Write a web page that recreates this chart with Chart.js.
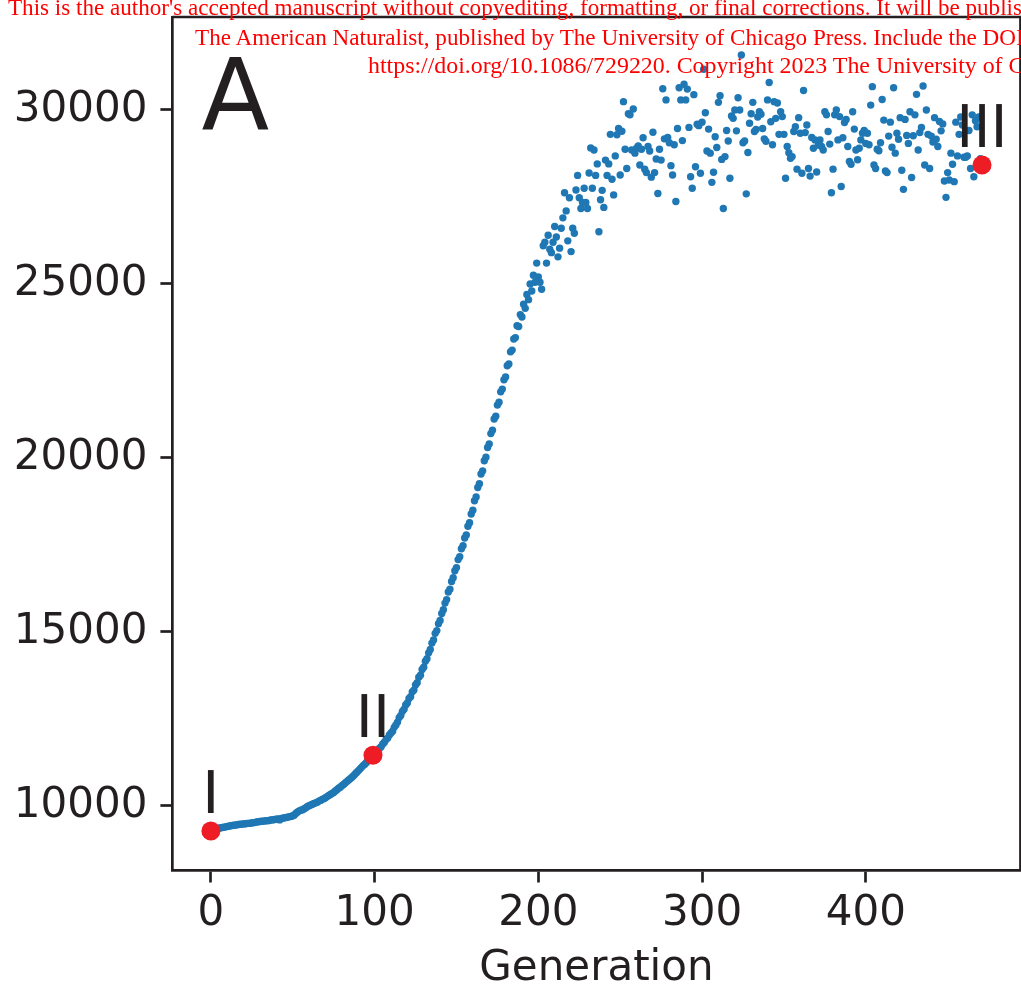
<!DOCTYPE html>
<html>
<head>
<meta charset="utf-8">
<script src="https://cdn.jsdelivr.net/npm/chart.js@4.4.0/dist/chart.umd.min.js"></script>
<style>
  html, body { margin: 0; padding: 0; background: #fff; overflow: hidden; }
  #wrap { position: relative; width: 1021px; height: 989px; overflow: hidden; }
  #chart { position: absolute; left: 0; top: 0; }
  .note {
    position: absolute; white-space: nowrap; color: #f00;
    font-family: "Liberation Serif", serif; font-size: 23px; line-height: 23px;
    transform-origin: 0 0;
  }
</style>
</head>
<body>
<div id="wrap">
  <canvas id="chart" width="1030" height="996"></canvas>
  <div class="note" id="n1" style="left:8px;top:-4px">This is the author's accepted manuscript without copyediting, formatting, or final corrections. It will be published in</div>
  <div class="note" id="n2" style="left:195px;top:25.5px">The American Naturalist, published by The University of Chicago Press. Include the DOI when citing or quoting:</div>
  <div class="note" id="n3" style="left:368px;top:54px">https://doi.org/10.1086/729220. Copyright 2023 The University of Chicago.</div>
</div>
<script>
// mean fitness per generation (index = generation)
const fitness = [
  9280, 9300, 9320, 9330, 9345, 9360, 9375, 9380, 9390, 9400,
  9410, 9420, 9430, 9440, 9445, 9450, 9460, 9470, 9475, 9480,
  9485, 9490, 9495, 9500, 9505, 9515, 9520, 9530, 9540, 9545,
  9555, 9560, 9565, 9570, 9580, 9575, 9590, 9600, 9605, 9610,
  9620, 9630, 9600, 9640, 9650, 9660, 9670, 9680, 9690, 9700,
  9720, 9740, 9790, 9830, 9860, 9880, 9890, 9920, 9950, 9985,
  10010, 10030, 10050, 10070, 10090, 10110, 10140, 10160, 10190, 10210,
  10240, 10270, 10300, 10330, 10360, 10390, 10430, 10470, 10510, 10540,
  10580, 10620, 10660, 10700, 10740, 10780, 10820, 10860, 10910, 10960,
  11010, 11060, 11110, 11160, 11200, 11250, 11300, 11350, 11400, 11460,
  11500, 11560, 11590, 11660, 11700, 11780, 11830, 11910, 11950, 12040,
  12100, 12150, 12260, 12330, 12410, 12540, 12600, 12720, 12780, 12900,
  12960, 13090, 13140, 13280, 13330, 13480, 13540, 13700, 13760, 13920,
  13990, 14160, 14230, 14400, 14500, 14680, 14770, 14960, 15040, 15240,
  15330, 15530, 15640, 15830, 15930, 16150, 16230, 16450, 16560, 16760,
  16850, 17080, 17160, 17390, 17480, 17700, 17790, 18040, 18140, 18390,
  18500, 18770, 18880, 19150, 19260, 19540, 19630, 19920, 20020, 20300,
  20400, 20700, 20800, 21120, 21200, 21520, 21600, 21900, 21980, 22250,
  22330, 22650, 22700, 23050, 23100, 23420, 23460, 23800, 23780, 24120,
  24050, 24420, 24300, 24700, 24550, 25000, 24800, 25250, 25050, 25600,
  25200, 25050, 24850, 26100, 26200, 25600, 26400, 26000, 25900, 26200,
  26650, 26350, 25780, 26030, 26600, 26900, 27620, 27100, 26240, 27480,
  25930, 26600, 26460, 27700, 28120, 27480, 27170, 27340, 27750, 27340,
  27170, 28190, 28910, 27750, 28850, 28120, 28450, 26500, 27420, 27690,
  27200, 28560, 28120, 28450, 29300, 28010, 27560, 28680, 29290, 29470,
  28130, 29390, 30240, 28870, 28320, 29890, 29860, 28850, 30030, 28760,
  28900, 28970, 28420, 28870, 29200, 28300, 28200, 28950, 28820, 28070,
  29360, 28200, 28590, 27600, 28870, 28560, 30610, 29170, 30290, 29210,
  29060, 28400, 28130, 29000, 27370, 29470, 30640, 30290, 29120, 30740,
  30290, 30600, 29500, 28080, 27750, 30440, 28370, 29590, 29550, 28180,
  29650, 31170, 29920, 28820, 29450, 28760, 27920, 28210, 29230, 28920,
  30220, 30410, 28580, 27170, 28660, 29410, 29110, 28040, 29830, 29760,
  30000, 29400, 30350, 30000, 31580, 29060, 29110, 27590, 28780, 29620,
  29890, 30220, 29380, 29440, 29800, 29950, 29880, 29470, 29170, 29100,
  30290, 30790, 29660, 29000, 30240, 29760, 30200, 29300, 29950, 29810,
  29300, 28040, 28950, 28770, 28610, 28660, 29380, 29520, 28300, 29780,
  29330, 28180, 30560, 29350, 29570, 28320, 28100, 29210, 28900, 29140,
  28220, 28990, 29140, 28950, 28850, 29950, 29860, 29380, 29020, 27620,
  28300, 29860, 30000, 29140, 29810, 27800, 29200, 29640, 29730, 28950,
  28520, 28440, 29950, 29450, 28850, 28570, 28900, 29140, 29330, 29410,
  29040, 29330, 29000, 30140, 30670, 28420, 28320, 28870, 28830, 29060,
  30300, 29710, 28250, 28200, 29250, 29650, 28930, 30640, 28760, 29330,
  29160, 29780, 28270, 27720, 29730, 29270, 29040, 29950, 28060, 29260,
  29860, 30450, 28850, 29350, 29500, 30690, 28420, 30000, 29300, 28320,
  29250, 29080, 29780, 29160, 28950, 29670, 29400, 29600, 27960, 27490,
  28200, 27990, 28760, 28440, 27940, 29650, 28680, 29300, 29800, 29570,
  28640, 28640, 28680, 29410, 28320, 29860, 28080, 29690, 29520, 29800,
  28600, 28420
];

// highlighted generations
const markerGens = [0, 99, 471];
const markerValues = [9280, 11460, 28420];
const markerLabels = ['I', 'II', 'III'];

const xTicks = [0, 100, 200, 300, 400];
const yTicks = [10000, 15000, 20000, 25000, 30000];
const panelLabel = 'A';

const ink = '#231f20';
const font = '"DejaVu Sans", sans-serif';

const extras = {
  id: 'extras',
  afterDatasetsDraw(chart) {
    const { ctx, chartArea: a, scales: { x, y } } = chart;
    ctx.save();
    // top and right spines
    ctx.strokeStyle = ink;
    ctx.lineWidth = 2.7;
    ctx.beginPath();
    ctx.moveTo(a.left, a.top);
    ctx.lineTo(a.right, a.top);
    ctx.lineTo(a.right, a.bottom);
    ctx.stroke();

    ctx.fillStyle = ink;
    ctx.textAlign = 'center';
    ctx.textBaseline = 'alphabetic';
    ctx.font = '58px ' + font;
    markerLabels.forEach((t, i) => {
      ctx.fillText(t, x.getPixelForValue(markerGens[i]), y.getPixelForValue(markerValues[i]) - 18);
    });

    ctx.textAlign = 'left';
    ctx.font = '99px ' + font;
    ctx.fillText(panelLabel, a.left + 29, a.top + 113);
    ctx.restore();
  }
};

const axisCommon = {
  border: { display: true, color: ink, width: 2.7 },
  grid: { display: true, drawOnChartArea: false, drawTicks: true, tickLength: 12, tickWidth: 2.7, tickColor: ink },
};

new Chart(document.getElementById('chart'), {
  type: 'scatter',
  data: {
    datasets: [
      {
        data: markerGens.map((g, i) => ({ x: g, y: markerValues[i] })),
        pointRadius: 9.5,
        pointBackgroundColor: '#ee1c25',
        pointBorderWidth: 0
      },
      {
        data: fitness.map((v, i) => ({ x: i, y: v })),
        pointRadius: 3.7,
        pointBackgroundColor: '#1f77b4',
        pointBorderWidth: 0
      }
    ]
  },
  options: {
    responsive: false,
    animation: false,
    devicePixelRatio: 1,
    layout: { padding: { left: 0, top: 17, right: 6.3, bottom: 0 } },
    plugins: { legend: { display: false }, tooltip: { enabled: false } },
    scales: {
      x: {
        ...axisCommon,
        type: 'linear',
        min: -23.5,
        max: 494.5,
        afterBuildTicks: s => { s.ticks = xTicks.map(v => ({ value: v })); },
        afterFit: s => { s.height = 125.5; s.paddingLeft = 0; s.paddingRight = 0; },
        ticks: { color: ink, font: { family: font, size: 42 }, padding: 6, maxRotation: 0, autoSkip: false, callback: v => String(v) },
        title: { display: true, text: 'Generation', color: ink, font: { family: font, size: 42 }, padding: { top: 0, bottom: 2 } }
      },
      y: {
        ...axisCommon,
        type: 'linear',
        min: 8146,
        max: 32672,
        afterBuildTicks: s => { s.ticks = yTicks.map(v => ({ value: v })); },
        afterFit: s => { s.width = 172.4; s.paddingTop = 0; s.paddingBottom = 0; },
        ticks: { color: ink, font: { family: font, size: 42 }, padding: 13, callback: v => String(v) }
      }
    }
  },
  plugins: [extras]
});

// squeeze the stamped notice lines to the width they take in the original
function fitNote(id, prefix, endX) {
  const el = document.getElementById(id);
  const c = document.createElement('canvas').getContext('2d');
  c.font = '23px "Liberation Serif"';
  const w = c.measureText(prefix).width;
  el.style.transform = 'scaleX(' + ((endX - parseFloat(el.style.left)) / w) + ')';
}
fitNote('n1', "This is the author's accepted manuscript without copyediting, formatting, or final corrections. It will be publi", 1013);
fitNote('n2', 'The American Naturalist, published by The University of Chicago Press. Include the D', 1001);
fitNote('n3', 'https://doi.org/10.1086/729220. Copyright 2023 The University of', 1003);
</script>
</body>
</html>
